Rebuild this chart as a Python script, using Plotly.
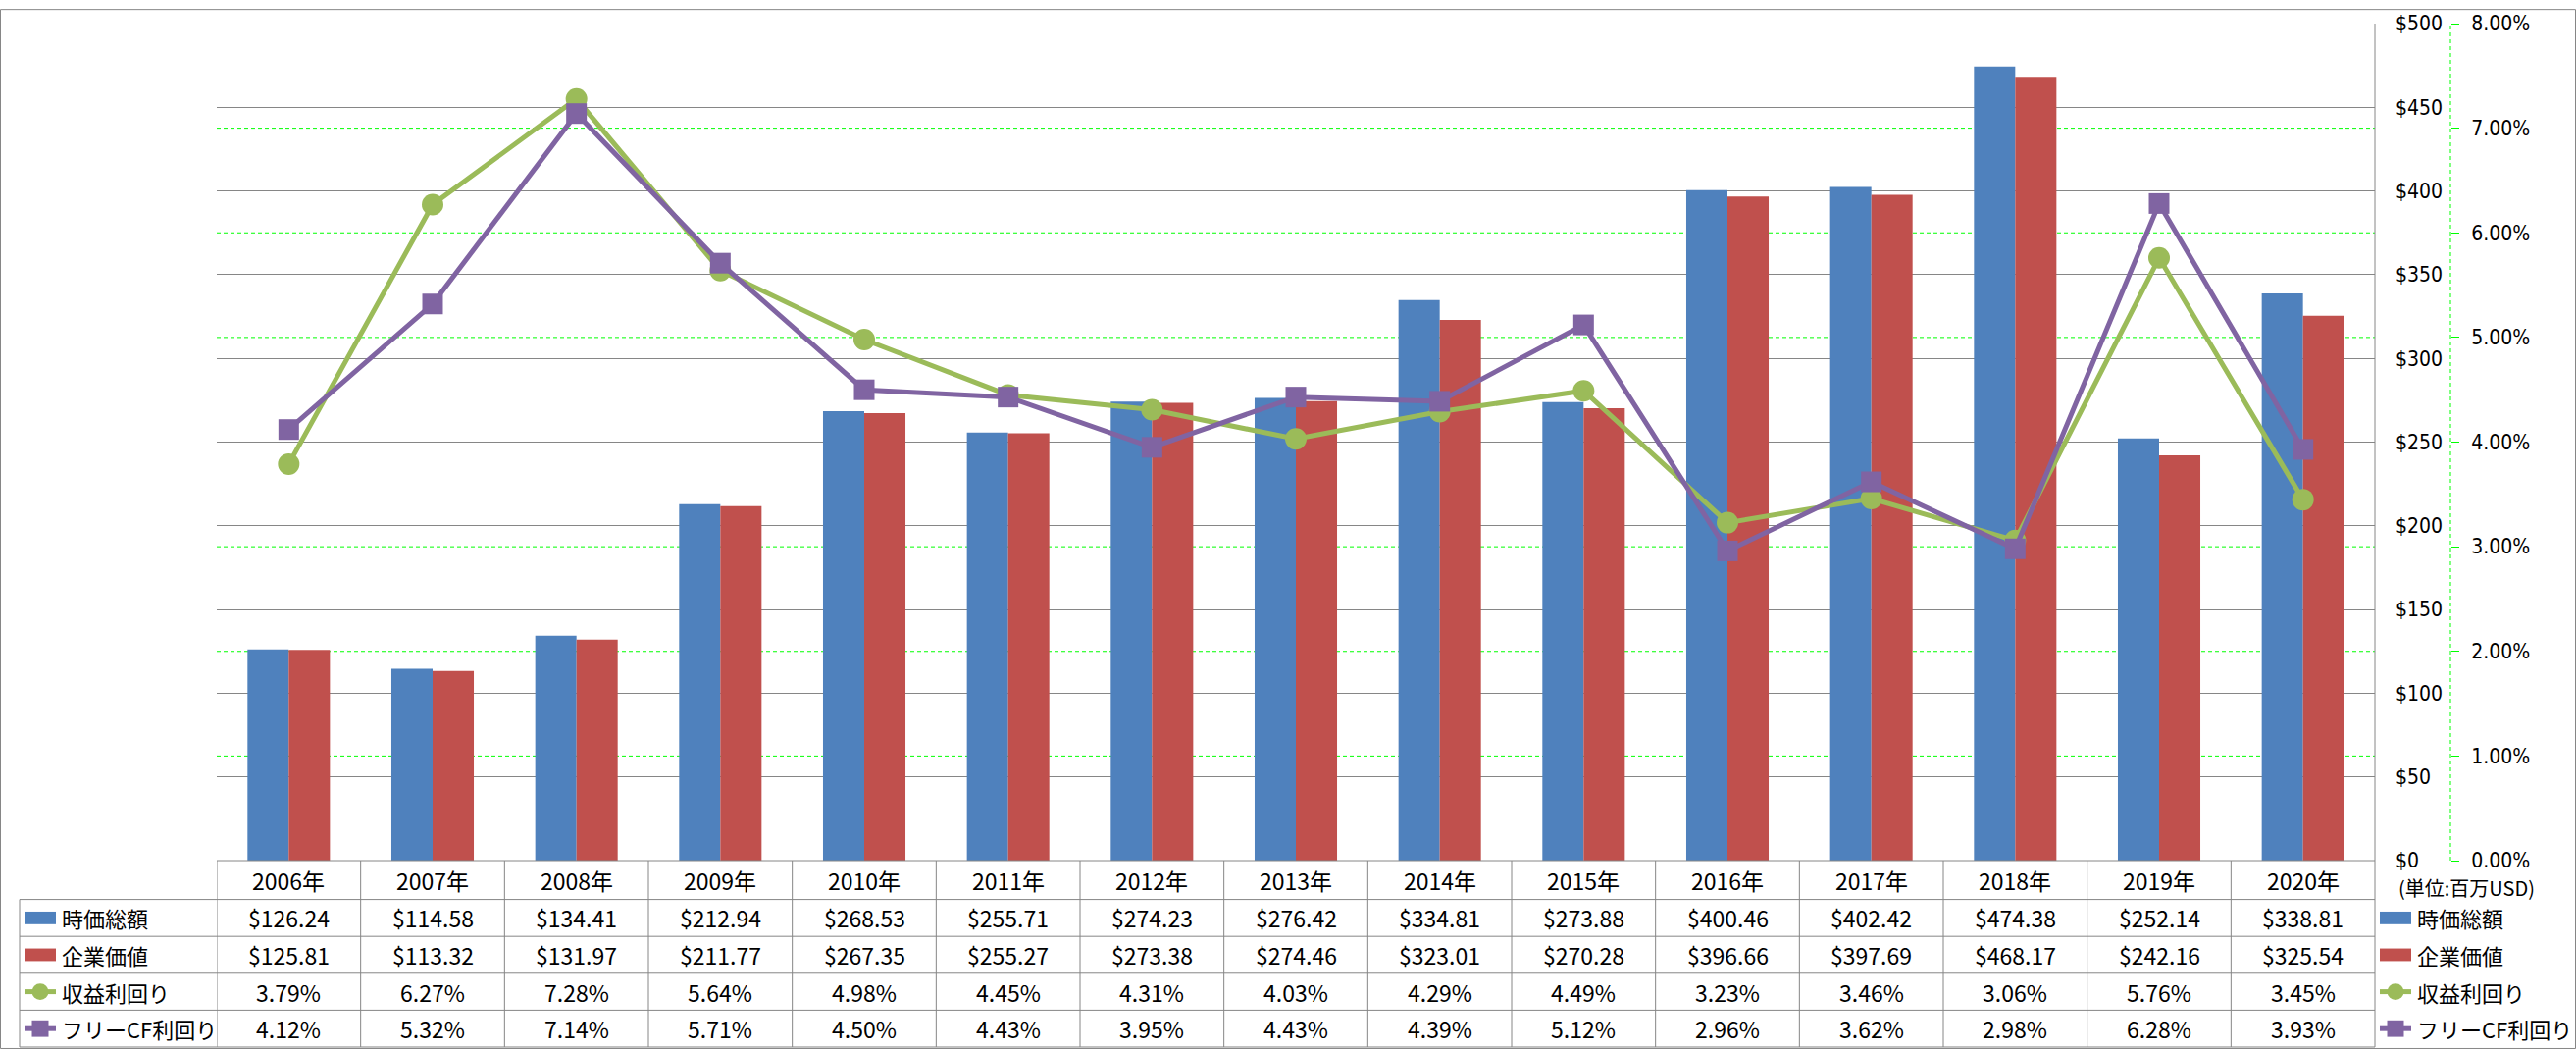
import plotly.graph_objects as go

years = ["2006年", "2007年", "2008年", "2009年", "2010年", "2011年", "2012年", "2013年",
         "2014年", "2015年", "2016年", "2017年", "2018年", "2019年", "2020年"]
market_cap = [126.24, 114.58, 134.41, 212.94, 268.53, 255.71, 274.23, 276.42,
              334.81, 273.88, 400.46, 402.42, 474.38, 252.14, 338.81]
enterprise_value = [125.81, 113.32, 131.97, 211.77, 267.35, 255.27, 273.38, 274.46,
                    323.01, 270.28, 396.66, 397.69, 468.17, 242.16, 325.54]
earnings_yield = [3.79, 6.27, 7.28, 5.64, 4.98, 4.45, 4.31, 4.03,
                  4.29, 4.49, 3.23, 3.46, 3.06, 5.76, 3.45]
fcf_yield = [4.12, 5.32, 7.14, 5.71, 4.50, 4.43, 3.95, 4.43,
             4.39, 5.12, 2.96, 3.62, 2.98, 6.28, 3.93]
series_names = ["時価総額", "企業価値", "収益利回り", "フリーCF利回り"]
unit_label = "(単位:百万USD)"
pct_grid = [0.01, 0.02, 0.03, 0.05, 0.06, 0.07]  # 4% coincides with the $250 line

BLUE = "#4F81BD"
RED = "#C0504D"
GREEN = "#9BBB59"
PURPLE = "#8064A2"
GRID = "#868686"
LIME = "#00FF00"

W, H = 2626, 1071
L, R, T, B = 221, 128, 15, 194
PW = W - L - R
PH = H - T - B
XEND = 2421  # right edge of category area


def px(x):
    return (x - L) / PW


def py(y):
    return (H - B - y) / PH


fig = go.Figure()
fig.add_trace(go.Bar(x=years, y=market_cap, name=series_names[0], marker_color=BLUE,
                     marker_line_width=0, yaxis="y"))
fig.add_trace(go.Bar(x=years, y=enterprise_value, name=series_names[1], marker_color=RED,
                     marker_line_width=0, yaxis="y"))
fig.add_trace(go.Scatter(x=years, y=[v / 100 for v in earnings_yield], name=series_names[2],
                         mode="lines+markers", yaxis="y2",
                         line=dict(color=GREEN, width=5),
                         marker=dict(symbol="circle", size=22, color=GREEN)))
fig.add_trace(go.Scatter(x=years, y=[v / 100 for v in fcf_yield], name=series_names[3],
                         mode="lines+markers", yaxis="y2",
                         line=dict(color=PURPLE, width=5),
                         marker=dict(symbol="square", size=21, color=PURPLE)))

shapes = []
ann = []
line_style = dict(color=GRID, width=1)

# outer border
shapes.append(dict(type="rect", xref="paper", yref="paper", x0=px(0.5), x1=px(W - 0.5),
                   y0=py(H - 0.5), y1=py(0.5), line=line_style, layer="above"))
# secondary (percent) gridlines, green dashed, behind the traces
for v in pct_grid:
    shapes.append(dict(type="line", xref="paper", yref="y2", x0=0, x1=px(XEND),
                       y0=v, y1=v, line=dict(color=LIME, width=1, dash="4px,3px"),
                       layer="between"))
# right boundary of plot/table
shapes.append(dict(type="line", xref="paper", yref="paper", x0=px(XEND), x1=px(XEND),
                   y0=py(T), y1=py(1069), line=line_style, layer="above"))
# secondary axis dashed line
shapes.append(dict(type="line", xref="paper", yref="paper", x0=1, x1=1,
                   y0=0, y1=1, line=dict(color=LIME, width=1, dash="4px,3px"), layer="above"))

# table
row_tops = [877, 917, 955, 993, 1031, 1069]
shapes.append(dict(type="line", xref="paper", yref="paper", x0=px(L), x1=px(XEND),
                   y0=py(877), y1=py(877), line=line_style, layer="above"))
for yy in row_tops[1:]:
    shapes.append(dict(type="line", xref="paper", yref="paper", x0=px(20), x1=px(XEND),
                       y0=py(yy), y1=py(yy), line=line_style, layer="above"))
for i in range(len(years)):
    shapes.append(dict(type="line", xref="x", yref="paper", x0=i - 0.5, x1=i - 0.5,
                       y0=py(877), y1=py(1069), line=line_style, layer="above"))
shapes.append(dict(type="line", xref="paper", yref="paper", x0=px(20), x1=px(20),
                   y0=py(917), y1=py(1069), line=line_style, layer="above"))

TFONT = dict(family="Noto Sans CJK JP", size=23, color="#000000")
LFONT = dict(family="Noto Sans CJK JP", size=22, color="#000000")

header_c = 897
for i, yr in enumerate(years):
    ann.append(dict(x=i, y=py(header_c), xref="x", yref="paper", text=yr, showarrow=False,
                    xanchor="center", yanchor="middle", font=TFONT))

rows = [
    ["${:.2f}".format(v) for v in market_cap],
    ["${:.2f}".format(v) for v in enterprise_value],
    ["{:.2f}%".format(v) for v in earnings_yield],
    ["{:.2f}%".format(v) for v in fcf_yield],
]
row_c = [936, 974, 1012, 1050]
for r, vals in enumerate(rows):
    for i, t in enumerate(vals):
        ann.append(dict(x=i, y=py(row_c[r]), xref="x", yref="paper", text=t, showarrow=False,
                        xanchor="center", yanchor="middle", font=TFONT))


def key(x0, yc, kind, color):
    x1 = x0 + 32
    if kind == "bar":
        shapes.append(dict(type="rect", xref="paper", yref="paper", x0=px(x0), x1=px(x1),
                           y0=py(yc + 6.5), y1=py(yc - 6.5), fillcolor=color,
                           line=dict(width=0), layer="above"))
    else:
        shapes.append(dict(type="line", xref="paper", yref="paper", x0=px(x0), x1=px(x1),
                           y0=py(yc), y1=py(yc), line=dict(color=color, width=5), layer="above"))
        cx = (x0 + x1) / 2
        r = 8.5
        shapes.append(dict(type="circle" if kind == "circle" else "rect",
                           xref="paper", yref="paper", x0=px(cx - r), x1=px(cx + r),
                           y0=py(yc + r), y1=py(yc - r), fillcolor=color,
                           line=dict(width=0), layer="above"))


kinds = [("bar", BLUE), ("bar", RED), ("circle", GREEN), ("square", PURPLE)]
for r, (kind, color) in enumerate(kinds):
    # left table legend
    key(25, row_c[r], kind, color)
    ann.append(dict(x=px(61), y=py(row_c[r]), xref="paper", yref="paper", text=series_names[r],
                    showarrow=False, xanchor="left", yanchor="middle", font=LFONT))
    # right legend
    key(2426, row_c[r], kind, color)
    ann.append(dict(x=px(2462), y=py(row_c[r]), xref="paper", yref="paper", text=series_names[r],
                    showarrow=False, xanchor="left", yanchor="middle", font=LFONT))

ann.append(dict(x=px(2514), y=py(905), xref="paper", yref="paper", text=unit_label,
                showarrow=False, xanchor="center", yanchor="middle",
                font=dict(family="Noto Sans CJK JP", size=20, color="#000000")))

AXFONT = dict(family="DejaVu Sans Condensed, Noto Sans, sans-serif", size=21, color="#000000")

fig.update_layout(
    width=W, height=H,
    margin=dict(l=L, r=R, t=T, b=B, pad=0),
    paper_bgcolor="white", plot_bgcolor="white",
    showlegend=False,
    barmode="group", bargap=0.427, bargroupgap=0,
    font=dict(family="Noto Sans CJK JP"),
    xaxis=dict(domain=[0, (XEND - L) / PW], type="category", range=[-0.5, len(years) - 0.5],
               autorange=False, showticklabels=False,
               showgrid=False, zeroline=False, showline=False, ticks=""),
    yaxis=dict(range=[0, 500], dtick=50, tickprefix="$", side="right", anchor="x",
               showgrid=True, gridcolor=GRID, gridwidth=1, zeroline=False, showline=False,
               ticks="", ticklabelstandoff=20, tickfont=AXFONT),
    yaxis2=dict(range=[0, 0.08], dtick=0.01, tickformat=".2%", overlaying="y", side="right",
                anchor="free", position=1, showgrid=False, zeroline=False, showline=False,
                ticks="outside", ticklen=8, tickcolor=LIME, tickwidth=1, ticklabelstandoff=8,
                tickfont=AXFONT),
    shapes=shapes,
    annotations=ann,
)

fig.write_html("out.html")
